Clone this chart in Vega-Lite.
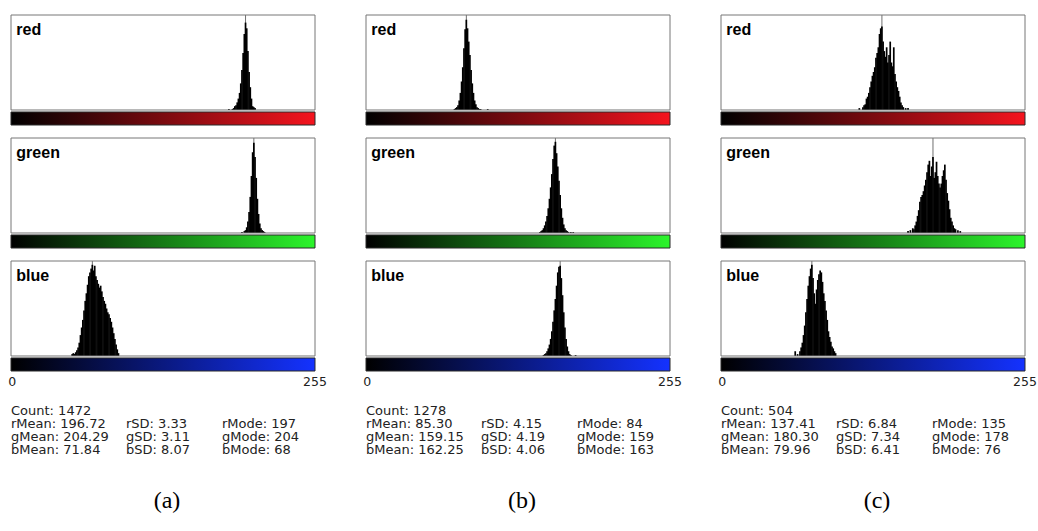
{
"$schema":"https://vega.github.io/schema/vega-lite/v6.json",
"padding":{"left":7,"top":14,"right":0,"bottom":0},
"background":"white",
"datasets":{
"hist":[
{"img":"a","ch":"r","bin":183,"n":1},{"img":"a","ch":"r","bin":186,"n":1},{"img":"a","ch":"r","bin":187,"n":2},{"img":"a","ch":"r","bin":188,"n":4},{"img":"a","ch":"r","bin":189,"n":5},{"img":"a","ch":"r","bin":190,"n":8},{"img":"a","ch":"r","bin":191,"n":12},{"img":"a","ch":"r","bin":192,"n":18},{"img":"a","ch":"r","bin":193,"n":28},{"img":"a","ch":"r","bin":194,"n":42},{"img":"a","ch":"r","bin":195,"n":60},{"img":"a","ch":"r","bin":196,"n":80},{"img":"a","ch":"r","bin":197,"n":92},{"img":"a","ch":"r","bin":198,"n":86},{"img":"a","ch":"r","bin":199,"n":62},{"img":"a","ch":"r","bin":200,"n":40},{"img":"a","ch":"r","bin":201,"n":24},{"img":"a","ch":"r","bin":202,"n":12},{"img":"a","ch":"r","bin":203,"n":4},{"img":"a","ch":"r","bin":204,"n":3},{"img":"a","ch":"r","bin":205,"n":2},
{"img":"a","ch":"g","bin":194,"n":1},{"img":"a","ch":"g","bin":196,"n":2},{"img":"a","ch":"g","bin":197,"n":3},{"img":"a","ch":"g","bin":198,"n":6},{"img":"a","ch":"g","bin":199,"n":12},{"img":"a","ch":"g","bin":200,"n":22},{"img":"a","ch":"g","bin":201,"n":38},{"img":"a","ch":"g","bin":202,"n":60},{"img":"a","ch":"g","bin":203,"n":85},{"img":"a","ch":"g","bin":204,"n":95},{"img":"a","ch":"g","bin":205,"n":80},{"img":"a","ch":"g","bin":206,"n":58},{"img":"a","ch":"g","bin":207,"n":36},{"img":"a","ch":"g","bin":208,"n":20},{"img":"a","ch":"g","bin":209,"n":10},{"img":"a","ch":"g","bin":210,"n":5},{"img":"a","ch":"g","bin":211,"n":3},{"img":"a","ch":"g","bin":212,"n":2},{"img":"a","ch":"g","bin":213,"n":1},
{"img":"a","ch":"b","bin":51,"n":2},{"img":"a","ch":"b","bin":52,"n":3},{"img":"a","ch":"b","bin":53,"n":2},{"img":"a","ch":"b","bin":54,"n":4},{"img":"a","ch":"b","bin":55,"n":6},{"img":"a","ch":"b","bin":56,"n":9},{"img":"a","ch":"b","bin":57,"n":14},{"img":"a","ch":"b","bin":58,"n":22},{"img":"a","ch":"b","bin":59,"n":30},{"img":"a","ch":"b","bin":60,"n":38},{"img":"a","ch":"b","bin":61,"n":48},{"img":"a","ch":"b","bin":62,"n":58},{"img":"a","ch":"b","bin":63,"n":66},{"img":"a","ch":"b","bin":64,"n":75},{"img":"a","ch":"b","bin":65,"n":84},{"img":"a","ch":"b","bin":66,"n":88},{"img":"a","ch":"b","bin":67,"n":92},{"img":"a","ch":"b","bin":68,"n":96},{"img":"a","ch":"b","bin":69,"n":90},{"img":"a","ch":"b","bin":70,"n":95},{"img":"a","ch":"b","bin":71,"n":84},{"img":"a","ch":"b","bin":72,"n":80},{"img":"a","ch":"b","bin":73,"n":76},{"img":"a","ch":"b","bin":74,"n":72},{"img":"a","ch":"b","bin":75,"n":74},{"img":"a","ch":"b","bin":76,"n":68},{"img":"a","ch":"b","bin":77,"n":62},{"img":"a","ch":"b","bin":78,"n":58},{"img":"a","ch":"b","bin":79,"n":55},{"img":"a","ch":"b","bin":80,"n":50},{"img":"a","ch":"b","bin":81,"n":46},{"img":"a","ch":"b","bin":82,"n":44},{"img":"a","ch":"b","bin":83,"n":40},{"img":"a","ch":"b","bin":84,"n":36},{"img":"a","ch":"b","bin":85,"n":30},{"img":"a","ch":"b","bin":86,"n":24},{"img":"a","ch":"b","bin":87,"n":18},{"img":"a","ch":"b","bin":88,"n":12},{"img":"a","ch":"b","bin":89,"n":7},{"img":"a","ch":"b","bin":90,"n":3},
{"img":"b","ch":"r","bin":74,"n":1},{"img":"b","ch":"r","bin":75,"n":2},{"img":"b","ch":"r","bin":76,"n":3},{"img":"b","ch":"r","bin":77,"n":5},{"img":"b","ch":"r","bin":78,"n":10},{"img":"b","ch":"r","bin":79,"n":18},{"img":"b","ch":"r","bin":80,"n":30},{"img":"b","ch":"r","bin":81,"n":45},{"img":"b","ch":"r","bin":82,"n":65},{"img":"b","ch":"r","bin":83,"n":85},{"img":"b","ch":"r","bin":84,"n":95},{"img":"b","ch":"r","bin":85,"n":86},{"img":"b","ch":"r","bin":86,"n":72},{"img":"b","ch":"r","bin":87,"n":58},{"img":"b","ch":"r","bin":88,"n":42},{"img":"b","ch":"r","bin":89,"n":28},{"img":"b","ch":"r","bin":90,"n":18},{"img":"b","ch":"r","bin":91,"n":10},{"img":"b","ch":"r","bin":92,"n":6},{"img":"b","ch":"r","bin":93,"n":3},{"img":"b","ch":"r","bin":94,"n":2},{"img":"b","ch":"r","bin":95,"n":1},{"img":"b","ch":"r","bin":96,"n":1},{"img":"b","ch":"r","bin":102,"n":1},
{"img":"b","ch":"g","bin":146,"n":1},{"img":"b","ch":"g","bin":147,"n":2},{"img":"b","ch":"g","bin":148,"n":3},{"img":"b","ch":"g","bin":149,"n":5},{"img":"b","ch":"g","bin":150,"n":8},{"img":"b","ch":"g","bin":151,"n":12},{"img":"b","ch":"g","bin":152,"n":18},{"img":"b","ch":"g","bin":153,"n":26},{"img":"b","ch":"g","bin":154,"n":36},{"img":"b","ch":"g","bin":155,"n":48},{"img":"b","ch":"g","bin":156,"n":62},{"img":"b","ch":"g","bin":157,"n":78},{"img":"b","ch":"g","bin":158,"n":92},{"img":"b","ch":"g","bin":159,"n":96},{"img":"b","ch":"g","bin":160,"n":84},{"img":"b","ch":"g","bin":161,"n":70},{"img":"b","ch":"g","bin":162,"n":55},{"img":"b","ch":"g","bin":163,"n":40},{"img":"b","ch":"g","bin":164,"n":26},{"img":"b","ch":"g","bin":165,"n":16},{"img":"b","ch":"g","bin":166,"n":9},{"img":"b","ch":"g","bin":167,"n":5},{"img":"b","ch":"g","bin":168,"n":3},{"img":"b","ch":"g","bin":169,"n":2},{"img":"b","ch":"g","bin":170,"n":1},{"img":"b","ch":"g","bin":172,"n":1},{"img":"b","ch":"g","bin":174,"n":1},
{"img":"b","ch":"b","bin":149,"n":1},{"img":"b","ch":"b","bin":150,"n":2},{"img":"b","ch":"b","bin":151,"n":3},{"img":"b","ch":"b","bin":152,"n":5},{"img":"b","ch":"b","bin":153,"n":8},{"img":"b","ch":"b","bin":154,"n":12},{"img":"b","ch":"b","bin":155,"n":18},{"img":"b","ch":"b","bin":156,"n":26},{"img":"b","ch":"b","bin":157,"n":36},{"img":"b","ch":"b","bin":158,"n":48},{"img":"b","ch":"b","bin":159,"n":60},{"img":"b","ch":"b","bin":160,"n":74},{"img":"b","ch":"b","bin":161,"n":88},{"img":"b","ch":"b","bin":162,"n":94},{"img":"b","ch":"b","bin":163,"n":95},{"img":"b","ch":"b","bin":164,"n":82},{"img":"b","ch":"b","bin":165,"n":64},{"img":"b","ch":"b","bin":166,"n":46},{"img":"b","ch":"b","bin":167,"n":30},{"img":"b","ch":"b","bin":168,"n":18},{"img":"b","ch":"b","bin":169,"n":10},{"img":"b","ch":"b","bin":170,"n":5},{"img":"b","ch":"b","bin":171,"n":2},{"img":"b","ch":"b","bin":172,"n":1},{"img":"b","ch":"b","bin":176,"n":1},
{"img":"c","ch":"r","bin":116,"n":2},{"img":"c","ch":"r","bin":119,"n":3},{"img":"c","ch":"r","bin":120,"n":5},{"img":"c","ch":"r","bin":121,"n":6},{"img":"c","ch":"r","bin":122,"n":12},{"img":"c","ch":"r","bin":123,"n":14},{"img":"c","ch":"r","bin":124,"n":18},{"img":"c","ch":"r","bin":125,"n":24},{"img":"c","ch":"r","bin":126,"n":30},{"img":"c","ch":"r","bin":127,"n":36},{"img":"c","ch":"r","bin":128,"n":40},{"img":"c","ch":"r","bin":129,"n":45},{"img":"c","ch":"r","bin":130,"n":55},{"img":"c","ch":"r","bin":131,"n":60},{"img":"c","ch":"r","bin":132,"n":66},{"img":"c","ch":"r","bin":133,"n":80},{"img":"c","ch":"r","bin":134,"n":86},{"img":"c","ch":"r","bin":135,"n":88},{"img":"c","ch":"r","bin":136,"n":72},{"img":"c","ch":"r","bin":137,"n":62},{"img":"c","ch":"r","bin":138,"n":56},{"img":"c","ch":"r","bin":139,"n":66},{"img":"c","ch":"r","bin":140,"n":50},{"img":"c","ch":"r","bin":141,"n":58},{"img":"c","ch":"r","bin":142,"n":72},{"img":"c","ch":"r","bin":143,"n":50},{"img":"c","ch":"r","bin":144,"n":46},{"img":"c","ch":"r","bin":145,"n":66},{"img":"c","ch":"r","bin":146,"n":38},{"img":"c","ch":"r","bin":147,"n":30},{"img":"c","ch":"r","bin":148,"n":24},{"img":"c","ch":"r","bin":149,"n":20},{"img":"c","ch":"r","bin":150,"n":14},{"img":"c","ch":"r","bin":151,"n":8},{"img":"c","ch":"r","bin":152,"n":5},{"img":"c","ch":"r","bin":153,"n":3},{"img":"c","ch":"r","bin":155,"n":2},{"img":"c","ch":"r","bin":157,"n":2},
{"img":"c","ch":"g","bin":157,"n":2},{"img":"c","ch":"g","bin":159,"n":3},{"img":"c","ch":"g","bin":161,"n":5},{"img":"c","ch":"g","bin":162,"n":4},{"img":"c","ch":"g","bin":163,"n":8},{"img":"c","ch":"g","bin":164,"n":12},{"img":"c","ch":"g","bin":165,"n":18},{"img":"c","ch":"g","bin":166,"n":24},{"img":"c","ch":"g","bin":167,"n":33},{"img":"c","ch":"g","bin":168,"n":38},{"img":"c","ch":"g","bin":169,"n":40},{"img":"c","ch":"g","bin":170,"n":44},{"img":"c","ch":"g","bin":171,"n":50},{"img":"c","ch":"g","bin":172,"n":56},{"img":"c","ch":"g","bin":173,"n":64},{"img":"c","ch":"g","bin":174,"n":72},{"img":"c","ch":"g","bin":175,"n":76},{"img":"c","ch":"g","bin":176,"n":60},{"img":"c","ch":"g","bin":177,"n":70},{"img":"c","ch":"g","bin":178,"n":80},{"img":"c","ch":"g","bin":179,"n":58},{"img":"c","ch":"g","bin":180,"n":64},{"img":"c","ch":"g","bin":181,"n":75},{"img":"c","ch":"g","bin":182,"n":60},{"img":"c","ch":"g","bin":183,"n":52},{"img":"c","ch":"g","bin":184,"n":48},{"img":"c","ch":"g","bin":185,"n":52},{"img":"c","ch":"g","bin":186,"n":60},{"img":"c","ch":"g","bin":187,"n":66},{"img":"c","ch":"g","bin":188,"n":72},{"img":"c","ch":"g","bin":189,"n":56},{"img":"c","ch":"g","bin":190,"n":42},{"img":"c","ch":"g","bin":191,"n":34},{"img":"c","ch":"g","bin":192,"n":25},{"img":"c","ch":"g","bin":193,"n":16},{"img":"c","ch":"g","bin":194,"n":12},{"img":"c","ch":"g","bin":195,"n":8},{"img":"c","ch":"g","bin":196,"n":5},{"img":"c","ch":"g","bin":197,"n":4},{"img":"c","ch":"g","bin":199,"n":3},{"img":"c","ch":"g","bin":201,"n":2},
{"img":"c","ch":"b","bin":62,"n":5},{"img":"c","ch":"b","bin":64,"n":2},{"img":"c","ch":"b","bin":66,"n":5},{"img":"c","ch":"b","bin":67,"n":9},{"img":"c","ch":"b","bin":68,"n":14},{"img":"c","ch":"b","bin":69,"n":22},{"img":"c","ch":"b","bin":70,"n":32},{"img":"c","ch":"b","bin":71,"n":46},{"img":"c","ch":"b","bin":72,"n":60},{"img":"c","ch":"b","bin":73,"n":74},{"img":"c","ch":"b","bin":74,"n":84},{"img":"c","ch":"b","bin":75,"n":92},{"img":"c","ch":"b","bin":76,"n":96},{"img":"c","ch":"b","bin":77,"n":82},{"img":"c","ch":"b","bin":78,"n":66},{"img":"c","ch":"b","bin":79,"n":55},{"img":"c","ch":"b","bin":80,"n":70},{"img":"c","ch":"b","bin":81,"n":80},{"img":"c","ch":"b","bin":82,"n":86},{"img":"c","ch":"b","bin":83,"n":90},{"img":"c","ch":"b","bin":84,"n":88},{"img":"c","ch":"b","bin":85,"n":78},{"img":"c","ch":"b","bin":86,"n":66},{"img":"c","ch":"b","bin":87,"n":58},{"img":"c","ch":"b","bin":88,"n":48},{"img":"c","ch":"b","bin":89,"n":38},{"img":"c","ch":"b","bin":90,"n":26},{"img":"c","ch":"b","bin":91,"n":20},{"img":"c","ch":"b","bin":92,"n":15},{"img":"c","ch":"b","bin":93,"n":10},{"img":"c","ch":"b","bin":94,"n":8},{"img":"c","ch":"b","bin":95,"n":5},{"img":"c","ch":"b","bin":96,"n":3}
],
"stats":[
{"img":"a","line":0,"col":1,"t":"Count: 1472"},
{"img":"a","line":1,"col":1,"t":"rMean: 196.72"},{"img":"a","line":1,"col":2,"t":"rSD: 3.33"},{"img":"a","line":1,"col":3,"t":"rMode: 197"},
{"img":"a","line":2,"col":1,"t":"gMean: 204.29"},{"img":"a","line":2,"col":2,"t":"gSD: 3.11"},{"img":"a","line":2,"col":3,"t":"gMode: 204"},
{"img":"a","line":3,"col":1,"t":"bMean: 71.84"},{"img":"a","line":3,"col":2,"t":"bSD: 8.07"},{"img":"a","line":3,"col":3,"t":"bMode: 68"},
{"img":"b","line":0,"col":1,"t":"Count: 1278"},
{"img":"b","line":1,"col":1,"t":"rMean: 85.30"},{"img":"b","line":1,"col":2,"t":"rSD: 4.15"},{"img":"b","line":1,"col":3,"t":"rMode: 84"},
{"img":"b","line":2,"col":1,"t":"gMean: 159.15"},{"img":"b","line":2,"col":2,"t":"gSD: 4.19"},{"img":"b","line":2,"col":3,"t":"gMode: 159"},
{"img":"b","line":3,"col":1,"t":"bMean: 162.25"},{"img":"b","line":3,"col":2,"t":"bSD: 4.06"},{"img":"b","line":3,"col":3,"t":"bMode: 163"},
{"img":"c","line":0,"col":1,"t":"Count: 504"},
{"img":"c","line":1,"col":1,"t":"rMean: 137.41"},{"img":"c","line":1,"col":2,"t":"rSD: 6.84"},{"img":"c","line":1,"col":3,"t":"rMode: 135"},
{"img":"c","line":2,"col":1,"t":"gMean: 180.30"},{"img":"c","line":2,"col":2,"t":"gSD: 7.34"},{"img":"c","line":2,"col":3,"t":"gMode: 178"},
{"img":"c","line":3,"col":1,"t":"bMean: 79.96"},{"img":"c","line":3,"col":2,"t":"bSD: 6.41"},{"img":"c","line":3,"col":3,"t":"bMode: 76"}
]
},
"spacing":35,
"hconcat":[
{"title":{"text":"(a)","orient":"bottom","anchor":"middle","font":"Liberation Serif","fontSize":24,"fontWeight":"normal","offset":32,"color":"#000"},
 "spacing":11,
 "vconcat":[
  {"width":304,"height":110,"layer":[
   {"data":{"values":[{"m":197}]},"mark":{"type":"rule","color":"#707070","strokeWidth":1},"encoding":{"x":{"field":"m","type":"quantitative","scale":{"domain":[-0.5,255.5],"nice":false,"padding":0},"axis":null},"y":{"datum":0,"type":"quantitative","scale":{"domain":[-15.8,100],"nice":false},"axis":null},"y2":{"datum":100}}},
   {"data":{"name":"hist"},"transform":[{"filter":"datum.img=='a' && datum.ch=='r'"}],"mark":{"type":"bar","width":1.7,"color":"#000"},"encoding":{"x":{"field":"bin","type":"quantitative","scale":{"domain":[-0.5,255.5],"nice":false,"padding":0},"axis":null},"y":{"field":"n","type":"quantitative","scale":{"domain":[-15.8,100],"nice":false},"axis":null}}},
   {"data":{"values":[{}]},"mark":{"type":"rect","fillOpacity":0,"stroke":"#767676","strokeWidth":1},"encoding":{"x":{"datum":-0.5,"axis":null},"x2":{"datum":255.5},"y":{"datum":0,"axis":null},"y2":{"datum":100}}},
   {"data":{"values":[{}]},"mark":{"type":"rect","fill":{"gradient":"linear","x1":0,"y1":0,"x2":1,"y2":0,"stops":[{"offset":0,"color":"#000000"},{"offset":1,"color":"#f5141e"}]},"stroke":"#2a2a2a","strokeWidth":1},"encoding":{"x":{"datum":-0.5,"axis":null},"x2":{"datum":255.5},"y":{"datum":-2.1,"axis":null},"y2":{"datum":-15.8}}},
   {"data":{"values":[{"t":"red"}]},"mark":{"type":"text","font":"Liberation Sans","fontWeight":"bold","fontSize":16,"align":"left","baseline":"alphabetic","color":"#000"},"encoding":{"text":{"field":"t","type":"nominal"},"x":{"datum":4,"axis":null},"y":{"datum":78.6,"axis":null}}}
  ]},
  {"width":304,"height":110,"layer":[
   {"data":{"values":[{"m":204}]},"mark":{"type":"rule","color":"#707070","strokeWidth":1},"encoding":{"x":{"field":"m","type":"quantitative","scale":{"domain":[-0.5,255.5],"nice":false,"padding":0},"axis":null},"y":{"datum":0,"type":"quantitative","scale":{"domain":[-15.8,100],"nice":false},"axis":null},"y2":{"datum":100}}},
   {"data":{"name":"hist"},"transform":[{"filter":"datum.img=='a' && datum.ch=='g'"}],"mark":{"type":"bar","width":1.7,"color":"#000"},"encoding":{"x":{"field":"bin","type":"quantitative","scale":{"domain":[-0.5,255.5],"nice":false,"padding":0},"axis":null},"y":{"field":"n","type":"quantitative","scale":{"domain":[-15.8,100],"nice":false},"axis":null}}},
   {"data":{"values":[{}]},"mark":{"type":"rect","fillOpacity":0,"stroke":"#767676","strokeWidth":1},"encoding":{"x":{"datum":-0.5,"axis":null},"x2":{"datum":255.5},"y":{"datum":0,"axis":null},"y2":{"datum":100}}},
   {"data":{"values":[{}]},"mark":{"type":"rect","fill":{"gradient":"linear","x1":0,"y1":0,"x2":1,"y2":0,"stops":[{"offset":0,"color":"#000000"},{"offset":1,"color":"#2cf52c"}]},"stroke":"#2a2a2a","strokeWidth":1},"encoding":{"x":{"datum":-0.5,"axis":null},"x2":{"datum":255.5},"y":{"datum":-2.1,"axis":null},"y2":{"datum":-15.8}}},
   {"data":{"values":[{"t":"green"}]},"mark":{"type":"text","font":"Liberation Sans","fontWeight":"bold","fontSize":16,"align":"left","baseline":"alphabetic","color":"#000"},"encoding":{"text":{"field":"t","type":"nominal"},"x":{"datum":4,"axis":null},"y":{"datum":78.6,"axis":null}}}
  ]},
  {"width":304,"height":110,"layer":[
   {"data":{"values":[{"m":68}]},"mark":{"type":"rule","color":"#707070","strokeWidth":1},"encoding":{"x":{"field":"m","type":"quantitative","scale":{"domain":[-0.5,255.5],"nice":false,"padding":0},"axis":{"values":[0,255],"ticks":false,"domain":false,"grid":false,"title":null,"labelFont":"DejaVu Sans","labelFontSize":12.5,"labelColor":"#222","labelPadding":4,"labelFlush":false,"labelOverlap":false}},"y":{"datum":0,"type":"quantitative","scale":{"domain":[-15.8,100],"nice":false},"axis":null},"y2":{"datum":100}}},
   {"data":{"name":"hist"},"transform":[{"filter":"datum.img=='a' && datum.ch=='b'"}],"mark":{"type":"bar","width":1.7,"color":"#000"},"encoding":{"x":{"field":"bin","type":"quantitative","scale":{"domain":[-0.5,255.5],"nice":false,"padding":0},"axis":{"values":[0,255],"ticks":false,"domain":false,"grid":false,"title":null,"labelFont":"DejaVu Sans","labelFontSize":12.5,"labelColor":"#222","labelPadding":4,"labelFlush":false,"labelOverlap":false}},"y":{"field":"n","type":"quantitative","scale":{"domain":[-15.8,100],"nice":false},"axis":null}}},
   {"data":{"values":[{}]},"mark":{"type":"rect","fillOpacity":0,"stroke":"#767676","strokeWidth":1},"encoding":{"x":{"datum":-0.5,"axis":{"values":[0,255],"ticks":false,"domain":false,"grid":false,"title":null,"labelFont":"DejaVu Sans","labelFontSize":12.5,"labelColor":"#222","labelPadding":4,"labelFlush":false,"labelOverlap":false}},"x2":{"datum":255.5},"y":{"datum":0,"axis":null},"y2":{"datum":100}}},
   {"data":{"values":[{}]},"mark":{"type":"rect","fill":{"gradient":"linear","x1":0,"y1":0,"x2":1,"y2":0,"stops":[{"offset":0,"color":"#000000"},{"offset":1,"color":"#1432ff"}]},"stroke":"#2a2a2a","strokeWidth":1},"encoding":{"x":{"datum":-0.5,"axis":{"values":[0,255],"ticks":false,"domain":false,"grid":false,"title":null,"labelFont":"DejaVu Sans","labelFontSize":12.5,"labelColor":"#222","labelPadding":4,"labelFlush":false,"labelOverlap":false}},"x2":{"datum":255.5},"y":{"datum":-2.1,"axis":null},"y2":{"datum":-15.8}}},
   {"data":{"values":[{"t":"blue"}]},"mark":{"type":"text","font":"Liberation Sans","fontWeight":"bold","fontSize":16,"align":"left","baseline":"alphabetic","color":"#000"},"encoding":{"text":{"field":"t","type":"nominal"},"x":{"datum":4,"axis":{"values":[0,255],"ticks":false,"domain":false,"grid":false,"title":null,"labelFont":"DejaVu Sans","labelFontSize":12.5,"labelColor":"#222","labelPadding":4,"labelFlush":false,"labelOverlap":false}},"y":{"datum":78.6,"axis":null}}}
  ]},
  {"width":304,"height":55,"data":{"name":"stats"},"transform":[{"filter":"datum.img=='a'"}],
   "mark":{"type":"text","align":"left","baseline":"middle","font":"DejaVu Sans","fontSize":13,"color":"#222"},
   "encoding":{"x":{"field":"col","type":"quantitative","scale":{"domain":[1,2,3],"range":[0,115,211],"nice":false},"axis":null},"y":{"field":"line","type":"quantitative","scale":{"domain":[0,3],"range":[12,51],"nice":false},"axis":null},"text":{"field":"t","type":"nominal"}}}
 ]},
{"title":{"text":"(b)","orient":"bottom","anchor":"middle","font":"Liberation Serif","fontSize":24,"fontWeight":"normal","offset":32,"color":"#000"},
 "spacing":11,
 "vconcat":[
  {"width":304,"height":110,"layer":[
   {"data":{"values":[{"m":84}]},"mark":{"type":"rule","color":"#707070","strokeWidth":1},"encoding":{"x":{"field":"m","type":"quantitative","scale":{"domain":[-0.5,255.5],"nice":false,"padding":0},"axis":null},"y":{"datum":0,"type":"quantitative","scale":{"domain":[-15.8,100],"nice":false},"axis":null},"y2":{"datum":100}}},
   {"data":{"name":"hist"},"transform":[{"filter":"datum.img=='b' && datum.ch=='r'"}],"mark":{"type":"bar","width":1.7,"color":"#000"},"encoding":{"x":{"field":"bin","type":"quantitative","scale":{"domain":[-0.5,255.5],"nice":false,"padding":0},"axis":null},"y":{"field":"n","type":"quantitative","scale":{"domain":[-15.8,100],"nice":false},"axis":null}}},
   {"data":{"values":[{}]},"mark":{"type":"rect","fillOpacity":0,"stroke":"#767676","strokeWidth":1},"encoding":{"x":{"datum":-0.5,"axis":null},"x2":{"datum":255.5},"y":{"datum":0,"axis":null},"y2":{"datum":100}}},
   {"data":{"values":[{}]},"mark":{"type":"rect","fill":{"gradient":"linear","x1":0,"y1":0,"x2":1,"y2":0,"stops":[{"offset":0,"color":"#000000"},{"offset":1,"color":"#f5141e"}]},"stroke":"#2a2a2a","strokeWidth":1},"encoding":{"x":{"datum":-0.5,"axis":null},"x2":{"datum":255.5},"y":{"datum":-2.1,"axis":null},"y2":{"datum":-15.8}}},
   {"data":{"values":[{"t":"red"}]},"mark":{"type":"text","font":"Liberation Sans","fontWeight":"bold","fontSize":16,"align":"left","baseline":"alphabetic","color":"#000"},"encoding":{"text":{"field":"t","type":"nominal"},"x":{"datum":4,"axis":null},"y":{"datum":78.6,"axis":null}}}
  ]},
  {"width":304,"height":110,"layer":[
   {"data":{"values":[{"m":159}]},"mark":{"type":"rule","color":"#707070","strokeWidth":1},"encoding":{"x":{"field":"m","type":"quantitative","scale":{"domain":[-0.5,255.5],"nice":false,"padding":0},"axis":null},"y":{"datum":0,"type":"quantitative","scale":{"domain":[-15.8,100],"nice":false},"axis":null},"y2":{"datum":100}}},
   {"data":{"name":"hist"},"transform":[{"filter":"datum.img=='b' && datum.ch=='g'"}],"mark":{"type":"bar","width":1.7,"color":"#000"},"encoding":{"x":{"field":"bin","type":"quantitative","scale":{"domain":[-0.5,255.5],"nice":false,"padding":0},"axis":null},"y":{"field":"n","type":"quantitative","scale":{"domain":[-15.8,100],"nice":false},"axis":null}}},
   {"data":{"values":[{}]},"mark":{"type":"rect","fillOpacity":0,"stroke":"#767676","strokeWidth":1},"encoding":{"x":{"datum":-0.5,"axis":null},"x2":{"datum":255.5},"y":{"datum":0,"axis":null},"y2":{"datum":100}}},
   {"data":{"values":[{}]},"mark":{"type":"rect","fill":{"gradient":"linear","x1":0,"y1":0,"x2":1,"y2":0,"stops":[{"offset":0,"color":"#000000"},{"offset":1,"color":"#2cf52c"}]},"stroke":"#2a2a2a","strokeWidth":1},"encoding":{"x":{"datum":-0.5,"axis":null},"x2":{"datum":255.5},"y":{"datum":-2.1,"axis":null},"y2":{"datum":-15.8}}},
   {"data":{"values":[{"t":"green"}]},"mark":{"type":"text","font":"Liberation Sans","fontWeight":"bold","fontSize":16,"align":"left","baseline":"alphabetic","color":"#000"},"encoding":{"text":{"field":"t","type":"nominal"},"x":{"datum":4,"axis":null},"y":{"datum":78.6,"axis":null}}}
  ]},
  {"width":304,"height":110,"layer":[
   {"data":{"values":[{"m":163}]},"mark":{"type":"rule","color":"#707070","strokeWidth":1},"encoding":{"x":{"field":"m","type":"quantitative","scale":{"domain":[-0.5,255.5],"nice":false,"padding":0},"axis":{"values":[0,255],"ticks":false,"domain":false,"grid":false,"title":null,"labelFont":"DejaVu Sans","labelFontSize":12.5,"labelColor":"#222","labelPadding":4,"labelFlush":false,"labelOverlap":false}},"y":{"datum":0,"type":"quantitative","scale":{"domain":[-15.8,100],"nice":false},"axis":null},"y2":{"datum":100}}},
   {"data":{"name":"hist"},"transform":[{"filter":"datum.img=='b' && datum.ch=='b'"}],"mark":{"type":"bar","width":1.7,"color":"#000"},"encoding":{"x":{"field":"bin","type":"quantitative","scale":{"domain":[-0.5,255.5],"nice":false,"padding":0},"axis":{"values":[0,255],"ticks":false,"domain":false,"grid":false,"title":null,"labelFont":"DejaVu Sans","labelFontSize":12.5,"labelColor":"#222","labelPadding":4,"labelFlush":false,"labelOverlap":false}},"y":{"field":"n","type":"quantitative","scale":{"domain":[-15.8,100],"nice":false},"axis":null}}},
   {"data":{"values":[{}]},"mark":{"type":"rect","fillOpacity":0,"stroke":"#767676","strokeWidth":1},"encoding":{"x":{"datum":-0.5,"axis":{"values":[0,255],"ticks":false,"domain":false,"grid":false,"title":null,"labelFont":"DejaVu Sans","labelFontSize":12.5,"labelColor":"#222","labelPadding":4,"labelFlush":false,"labelOverlap":false}},"x2":{"datum":255.5},"y":{"datum":0,"axis":null},"y2":{"datum":100}}},
   {"data":{"values":[{}]},"mark":{"type":"rect","fill":{"gradient":"linear","x1":0,"y1":0,"x2":1,"y2":0,"stops":[{"offset":0,"color":"#000000"},{"offset":1,"color":"#1432ff"}]},"stroke":"#2a2a2a","strokeWidth":1},"encoding":{"x":{"datum":-0.5,"axis":{"values":[0,255],"ticks":false,"domain":false,"grid":false,"title":null,"labelFont":"DejaVu Sans","labelFontSize":12.5,"labelColor":"#222","labelPadding":4,"labelFlush":false,"labelOverlap":false}},"x2":{"datum":255.5},"y":{"datum":-2.1,"axis":null},"y2":{"datum":-15.8}}},
   {"data":{"values":[{"t":"blue"}]},"mark":{"type":"text","font":"Liberation Sans","fontWeight":"bold","fontSize":16,"align":"left","baseline":"alphabetic","color":"#000"},"encoding":{"text":{"field":"t","type":"nominal"},"x":{"datum":4,"axis":{"values":[0,255],"ticks":false,"domain":false,"grid":false,"title":null,"labelFont":"DejaVu Sans","labelFontSize":12.5,"labelColor":"#222","labelPadding":4,"labelFlush":false,"labelOverlap":false}},"y":{"datum":78.6,"axis":null}}}
  ]},
  {"width":304,"height":55,"data":{"name":"stats"},"transform":[{"filter":"datum.img=='b'"}],
   "mark":{"type":"text","align":"left","baseline":"middle","font":"DejaVu Sans","fontSize":13,"color":"#222"},
   "encoding":{"x":{"field":"col","type":"quantitative","scale":{"domain":[1,2,3],"range":[0,115,211],"nice":false},"axis":null},"y":{"field":"line","type":"quantitative","scale":{"domain":[0,3],"range":[12,51],"nice":false},"axis":null},"text":{"field":"t","type":"nominal"}}}
 ]},
{"title":{"text":"(c)","orient":"bottom","anchor":"middle","font":"Liberation Serif","fontSize":24,"fontWeight":"normal","offset":32,"color":"#000"},
 "spacing":11,
 "vconcat":[
  {"width":304,"height":110,"layer":[
   {"data":{"values":[{"m":135}]},"mark":{"type":"rule","color":"#707070","strokeWidth":1},"encoding":{"x":{"field":"m","type":"quantitative","scale":{"domain":[-0.5,255.5],"nice":false,"padding":0},"axis":null},"y":{"datum":0,"type":"quantitative","scale":{"domain":[-15.8,100],"nice":false},"axis":null},"y2":{"datum":100}}},
   {"data":{"name":"hist"},"transform":[{"filter":"datum.img=='c' && datum.ch=='r'"}],"mark":{"type":"bar","width":1.7,"color":"#000"},"encoding":{"x":{"field":"bin","type":"quantitative","scale":{"domain":[-0.5,255.5],"nice":false,"padding":0},"axis":null},"y":{"field":"n","type":"quantitative","scale":{"domain":[-15.8,100],"nice":false},"axis":null}}},
   {"data":{"values":[{}]},"mark":{"type":"rect","fillOpacity":0,"stroke":"#767676","strokeWidth":1},"encoding":{"x":{"datum":-0.5,"axis":null},"x2":{"datum":255.5},"y":{"datum":0,"axis":null},"y2":{"datum":100}}},
   {"data":{"values":[{}]},"mark":{"type":"rect","fill":{"gradient":"linear","x1":0,"y1":0,"x2":1,"y2":0,"stops":[{"offset":0,"color":"#000000"},{"offset":1,"color":"#f5141e"}]},"stroke":"#2a2a2a","strokeWidth":1},"encoding":{"x":{"datum":-0.5,"axis":null},"x2":{"datum":255.5},"y":{"datum":-2.1,"axis":null},"y2":{"datum":-15.8}}},
   {"data":{"values":[{"t":"red"}]},"mark":{"type":"text","font":"Liberation Sans","fontWeight":"bold","fontSize":16,"align":"left","baseline":"alphabetic","color":"#000"},"encoding":{"text":{"field":"t","type":"nominal"},"x":{"datum":4,"axis":null},"y":{"datum":78.6,"axis":null}}}
  ]},
  {"width":304,"height":110,"layer":[
   {"data":{"values":[{"m":178}]},"mark":{"type":"rule","color":"#707070","strokeWidth":1},"encoding":{"x":{"field":"m","type":"quantitative","scale":{"domain":[-0.5,255.5],"nice":false,"padding":0},"axis":null},"y":{"datum":0,"type":"quantitative","scale":{"domain":[-15.8,100],"nice":false},"axis":null},"y2":{"datum":100}}},
   {"data":{"name":"hist"},"transform":[{"filter":"datum.img=='c' && datum.ch=='g'"}],"mark":{"type":"bar","width":1.7,"color":"#000"},"encoding":{"x":{"field":"bin","type":"quantitative","scale":{"domain":[-0.5,255.5],"nice":false,"padding":0},"axis":null},"y":{"field":"n","type":"quantitative","scale":{"domain":[-15.8,100],"nice":false},"axis":null}}},
   {"data":{"values":[{}]},"mark":{"type":"rect","fillOpacity":0,"stroke":"#767676","strokeWidth":1},"encoding":{"x":{"datum":-0.5,"axis":null},"x2":{"datum":255.5},"y":{"datum":0,"axis":null},"y2":{"datum":100}}},
   {"data":{"values":[{}]},"mark":{"type":"rect","fill":{"gradient":"linear","x1":0,"y1":0,"x2":1,"y2":0,"stops":[{"offset":0,"color":"#000000"},{"offset":1,"color":"#2cf52c"}]},"stroke":"#2a2a2a","strokeWidth":1},"encoding":{"x":{"datum":-0.5,"axis":null},"x2":{"datum":255.5},"y":{"datum":-2.1,"axis":null},"y2":{"datum":-15.8}}},
   {"data":{"values":[{"t":"green"}]},"mark":{"type":"text","font":"Liberation Sans","fontWeight":"bold","fontSize":16,"align":"left","baseline":"alphabetic","color":"#000"},"encoding":{"text":{"field":"t","type":"nominal"},"x":{"datum":4,"axis":null},"y":{"datum":78.6,"axis":null}}}
  ]},
  {"width":304,"height":110,"layer":[
   {"data":{"values":[{"m":76}]},"mark":{"type":"rule","color":"#707070","strokeWidth":1},"encoding":{"x":{"field":"m","type":"quantitative","scale":{"domain":[-0.5,255.5],"nice":false,"padding":0},"axis":{"values":[0,255],"ticks":false,"domain":false,"grid":false,"title":null,"labelFont":"DejaVu Sans","labelFontSize":12.5,"labelColor":"#222","labelPadding":4,"labelFlush":false,"labelOverlap":false}},"y":{"datum":0,"type":"quantitative","scale":{"domain":[-15.8,100],"nice":false},"axis":null},"y2":{"datum":100}}},
   {"data":{"name":"hist"},"transform":[{"filter":"datum.img=='c' && datum.ch=='b'"}],"mark":{"type":"bar","width":1.7,"color":"#000"},"encoding":{"x":{"field":"bin","type":"quantitative","scale":{"domain":[-0.5,255.5],"nice":false,"padding":0},"axis":{"values":[0,255],"ticks":false,"domain":false,"grid":false,"title":null,"labelFont":"DejaVu Sans","labelFontSize":12.5,"labelColor":"#222","labelPadding":4,"labelFlush":false,"labelOverlap":false}},"y":{"field":"n","type":"quantitative","scale":{"domain":[-15.8,100],"nice":false},"axis":null}}},
   {"data":{"values":[{}]},"mark":{"type":"rect","fillOpacity":0,"stroke":"#767676","strokeWidth":1},"encoding":{"x":{"datum":-0.5,"axis":{"values":[0,255],"ticks":false,"domain":false,"grid":false,"title":null,"labelFont":"DejaVu Sans","labelFontSize":12.5,"labelColor":"#222","labelPadding":4,"labelFlush":false,"labelOverlap":false}},"x2":{"datum":255.5},"y":{"datum":0,"axis":null},"y2":{"datum":100}}},
   {"data":{"values":[{}]},"mark":{"type":"rect","fill":{"gradient":"linear","x1":0,"y1":0,"x2":1,"y2":0,"stops":[{"offset":0,"color":"#000000"},{"offset":1,"color":"#1432ff"}]},"stroke":"#2a2a2a","strokeWidth":1},"encoding":{"x":{"datum":-0.5,"axis":{"values":[0,255],"ticks":false,"domain":false,"grid":false,"title":null,"labelFont":"DejaVu Sans","labelFontSize":12.5,"labelColor":"#222","labelPadding":4,"labelFlush":false,"labelOverlap":false}},"x2":{"datum":255.5},"y":{"datum":-2.1,"axis":null},"y2":{"datum":-15.8}}},
   {"data":{"values":[{"t":"blue"}]},"mark":{"type":"text","font":"Liberation Sans","fontWeight":"bold","fontSize":16,"align":"left","baseline":"alphabetic","color":"#000"},"encoding":{"text":{"field":"t","type":"nominal"},"x":{"datum":4,"axis":{"values":[0,255],"ticks":false,"domain":false,"grid":false,"title":null,"labelFont":"DejaVu Sans","labelFontSize":12.5,"labelColor":"#222","labelPadding":4,"labelFlush":false,"labelOverlap":false}},"y":{"datum":78.6,"axis":null}}}
  ]},
  {"width":304,"height":55,"data":{"name":"stats"},"transform":[{"filter":"datum.img=='c'"}],
   "mark":{"type":"text","align":"left","baseline":"middle","font":"DejaVu Sans","fontSize":13,"color":"#222"},
   "encoding":{"x":{"field":"col","type":"quantitative","scale":{"domain":[1,2,3],"range":[0,115,211],"nice":false},"axis":null},"y":{"field":"line","type":"quantitative","scale":{"domain":[0,3],"range":[12,51],"nice":false},"axis":null},"text":{"field":"t","type":"nominal"}}}
 ]}
],
"config":{"view":{"stroke":null},"scale":{"continuousPadding":0}}
}
